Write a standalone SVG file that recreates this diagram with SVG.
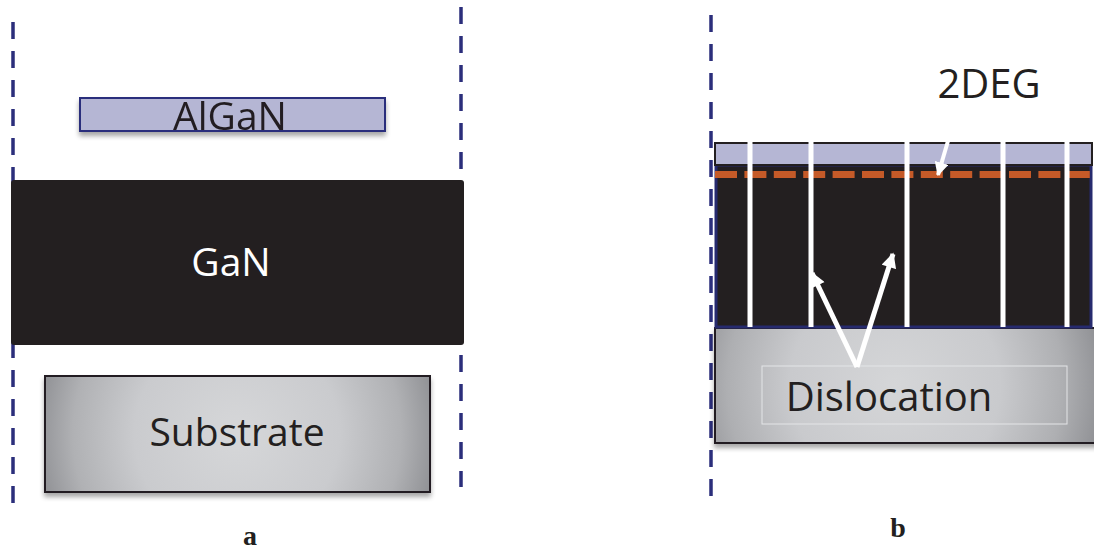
<svg xmlns="http://www.w3.org/2000/svg" width="1094" height="552" viewBox="0 0 1094 552">
  <defs>
    <style>
      .guide { stroke: #2b2e7b; stroke-width: 3.5; stroke-dasharray: 17 12; fill: none; }
      .label { font-family: "Open Sans", "Noto Sans", "Liberation Sans", sans-serif; text-anchor: middle; }
      .dark { fill: #231f20; }
      .light { fill: #ffffff; }
      .caption { font-family: "Liberation Serif", "Times New Roman", serif; font-weight: bold; font-size: 28px; fill: #231f20; text-anchor: middle; }
      .algan { fill: #b5b6d4; }
      .gan { fill: #231f20; }
      .dislocation { stroke: #ffffff; stroke-width: 5; }
      .pointer { stroke: #ffffff; fill: none; stroke-linecap: butt; }
    </style>
    <radialGradient id="subA" cx="237" cy="434" r="205" gradientUnits="userSpaceOnUse">
      <stop offset="0" stop-color="#d6d7d9"/>
      <stop offset="0.5" stop-color="#cacbce"/>
      <stop offset="0.8" stop-color="#b0b1b4"/>
      <stop offset="1" stop-color="#8d8e92"/>
    </radialGradient>
    <radialGradient id="subB" cx="895" cy="385" r="210" gradientUnits="userSpaceOnUse">
      <stop offset="0" stop-color="#d5d6d8"/>
      <stop offset="0.5" stop-color="#c9cacd"/>
      <stop offset="0.8" stop-color="#aeafb2"/>
      <stop offset="1" stop-color="#8f9094"/>
    </radialGradient>
    <filter id="shadow" x="-5%" y="-10%" width="110%" height="130%">
      <feGaussianBlur in="SourceAlpha" stdDeviation="2.5"/>
      <feOffset dx="0" dy="4" result="b"/>
      <feComponentTransfer><feFuncA type="linear" slope="0.35"/></feComponentTransfer>
      <feMerge><feMergeNode/><feMergeNode in="SourceGraphic"/></feMerge>
    </filter>
    <marker id="head" viewBox="0 0 10 10" refX="9" refY="5" markerWidth="16" markerHeight="15" markerUnits="userSpaceOnUse" orient="auto">
      <path d="M0,0 L10,5 L0,10 Z" fill="#ffffff"/>
    </marker>
    <marker id="headSmall" viewBox="0 0 10 10" refX="9" refY="5" markerWidth="14" markerHeight="14" markerUnits="userSpaceOnUse" orient="auto">
      <path d="M0,0 L10,5 L0,10 Z" fill="#ffffff"/>
    </marker>
  </defs>

  <rect width="1094" height="552" fill="#ffffff"/>

  <!-- Panel a: separate layers -->
  <g id="guides-a">
    <line class="guide" x1="13" y1="22" x2="13" y2="503"/>
    <line class="guide" x1="461" y1="7" x2="461" y2="487"/>
  </g>

  <g id="algan-a" filter="url(#shadow)">
    <rect class="algan" x="80" y="98" width="305" height="33" stroke="#2b2e7b" stroke-width="2"/>
    <text class="label dark" x="230" y="130" font-size="39">AlGaN</text>
  </g>

  <g id="gan-a">
    <rect class="gan" x="11" y="180" width="453" height="165" rx="3"/>
    <text class="label light" x="231" y="276" font-size="39">GaN</text>
  </g>

  <g id="substrate-a">
    <rect x="45" y="376" width="385" height="116" fill="url(#subA)" stroke="#231f20" stroke-width="2" filter="url(#shadow)"/>
    <text class="label dark" x="237" y="446" font-size="39">Substrate</text>
  </g>

  <g id="caption-a">
    <text class="caption" x="250" y="545">a</text>
  </g>

  <!-- Panel b: stacked heterostructure -->
  <g id="guides-b">
    <line class="guide" x1="711" y1="15" x2="711" y2="498"/>
  </g>

  <g id="substrate-b">
    <rect x="715" y="328" width="385" height="115" fill="url(#subB)" stroke="#231f20" stroke-width="2" filter="url(#shadow)"/>
    <rect x="762" y="366" width="305" height="58" fill="none" stroke="#e4e5e7" stroke-width="1"/>
  </g>

  <g id="gan-b">
    <rect class="gan" x="716" y="165" width="375" height="162" stroke="#262a6e" stroke-width="3"/>
  </g>

  <g id="algan-b">
    <rect class="algan" x="715" y="143" width="377" height="22" stroke="#231f20" stroke-width="2"/>
  </g>

  <g id="channel-2deg">
    <line x1="715" y1="174.5" x2="1090" y2="174.5" stroke="#c55a28" stroke-width="7" stroke-dasharray="22 7.4"/>
  </g>

  <g id="dislocations">
    <line class="dislocation" x1="750" y1="142" x2="750" y2="327"/>
    <line class="dislocation" x1="811" y1="142" x2="811" y2="327"/>
    <line class="dislocation" x1="907" y1="142" x2="907" y2="327"/>
    <line class="dislocation" x1="1003" y1="142" x2="1003" y2="327"/>
    <line class="dislocation" x1="1067" y1="142" x2="1067" y2="327"/>
  </g>

  <g id="connectors">
    <line class="pointer" x1="857" y1="367" x2="812" y2="273" stroke-width="5" marker-end="url(#head)"/>
    <line class="pointer" x1="857" y1="367" x2="893" y2="254" stroke-width="5" marker-end="url(#head)"/>
    <line class="pointer" x1="948" y1="141" x2="938" y2="175" stroke-width="4" marker-end="url(#headSmall)"/>
  </g>

  <g id="label-2deg">
    <text class="label dark" x="989" y="98" font-size="40">2DEG</text>
  </g>

  <g id="label-dislocation">
    <text class="label dark" x="889" y="411" font-size="40">Dislocation</text>
  </g>

  <g id="caption-b">
    <text class="caption" x="898" y="537">b</text>
  </g>
</svg>
